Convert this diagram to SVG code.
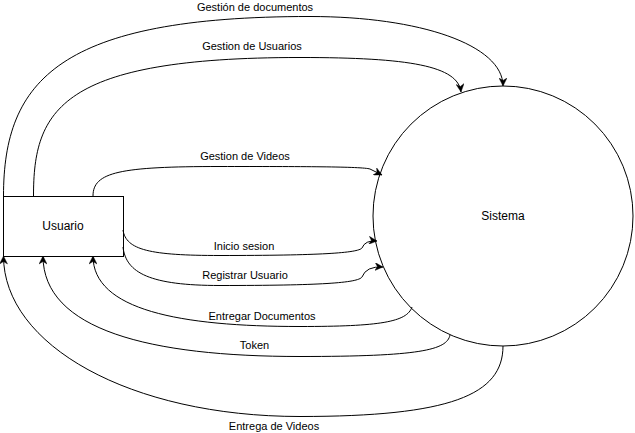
<svg xmlns="http://www.w3.org/2000/svg" width="635" height="433" viewBox="0 0 635 433">
<style>
.shape{fill:#fff;stroke:#000;stroke-width:1}
.edge{fill:none;stroke:#000;stroke-width:1;marker-end:url(#arr)}
.lbl{font-family:"Liberation Sans",Arial,sans-serif;font-size:11px;fill:#000;text-anchor:middle}
.nlbl{font-family:"Liberation Sans",Arial,sans-serif;font-size:12px;fill:#000;text-anchor:middle}
</style>
<defs>
<marker id="arr" viewBox="0 0 10 10" refX="10" refY="5" markerWidth="9" markerHeight="8" markerUnits="userSpaceOnUse" orient="auto">
<path d="M10,5 L0,0 L3,5 L0,10 Z" fill="#000" stroke="#000" stroke-width="0.5"/>
</marker>
</defs>
<rect width="635" height="433" fill="#fff"/>
<g id="usuario">
<rect class="shape" x="3.5" y="196.5" width="120" height="60"/>
<text class="nlbl" x="63" y="230">Usuario</text>
</g>
<g id="sistema">
<circle class="shape" cx="503" cy="216" r="130"/>
<text class="nlbl" x="503" y="220">Sistema</text>
</g>
<g id="connectors">
<path class="edge" d="M3.5,196 C3.5,80 60,16.5 310,16.5 C420,16.5 503,45 503,86"/>
<path class="edge" d="M33.5,196 C33.5,110 60,57.5 300,57.5 C410,57.5 458,66 461,92"/>
<path class="edge" d="M93,196 C93,172 120,166.5 220,166.5 C300,166.5 362,166.5 370,169 L382,175"/>
<path class="edge" d="M123,230 C126,250 150,255.5 220,255.5 C320,255.5 358,253 362,248 Q365,240 377,241"/>
<path class="edge" d="M123,247 C126,273 150,285.5 220,285.5 C320,285.5 358,283 362,277 Q366,266 383,267"/>
<path class="edge" d="M412,307 C407,322 380,326.5 300,326.5 C180,326.5 93,310 93,256"/>
<path class="edge" d="M450,335 C447,350 420,356.5 300,356.5 C150,356.5 43,330 43,256"/>
<path class="edge" d="M503,346 C503,395 450,416.5 300,416.5 C130,416.5 3.5,345 3.5,256"/>
</g>
<g id="labels">
<text class="lbl" x="255" y="10.5">Gestión de documentos</text>
<text class="lbl" x="252" y="50">Gestion de Usuarios</text>
<text class="lbl" x="245" y="160">Gestion de Videos</text>
<text class="lbl" x="244" y="250">Inicio sesion</text>
<text class="lbl" x="245" y="279">Registrar Usuario</text>
<text class="lbl" x="262" y="320">Entregar Documentos</text>
<text class="lbl" x="254.5" y="349">Token</text>
<text class="lbl" x="274" y="430">Entrega de Videos</text>
</g>
</svg>
